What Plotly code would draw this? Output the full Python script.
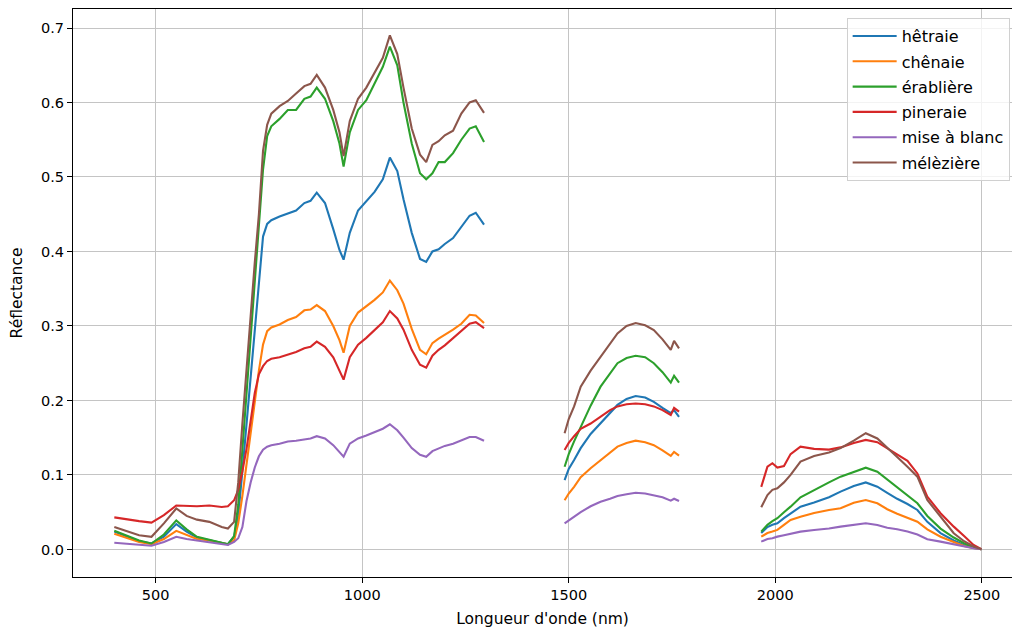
import plotly.graph_objects as go

# Wavelength grids (nm) for the three measured segments
w_vnir = [400, 430, 460, 490, 520, 550, 575, 600, 630, 660, 675, 690, 700, 710, 720, 730, 740, 750, 760, 770,
          780, 800, 820, 840, 860, 875, 890, 910, 930, 945, 955, 970, 990, 1010, 1030, 1050, 1067, 1085, 1100, 1120,
          1140, 1155, 1170, 1185, 1200, 1220, 1240, 1260, 1275, 1295]
w_swir1 = [1490, 1500, 1513, 1529, 1553, 1577, 1600, 1618, 1640, 1662, 1685, 1706, 1727, 1747, 1755, 1767]
w_swir2 = [1966, 1981, 1993, 2005, 2021, 2037, 2061, 2094, 2130, 2158, 2190, 2219, 2247, 2271, 2295, 2320,
           2344, 2368, 2400, 2432, 2457, 2480, 2499]

# hêtraie
hetraie_vnir = [0.024, 0.017, 0.011, 0.008, 0.017, 0.034, 0.024, 0.016, 0.012, 0.008, 0.007, 0.017, 0.045, 0.105,
                0.17, 0.233, 0.297, 0.36, 0.42, 0.437, 0.442, 0.447, 0.451, 0.455, 0.465, 0.468, 0.479, 0.465,
                0.43, 0.402, 0.389, 0.425, 0.455, 0.468, 0.48, 0.497, 0.526, 0.508, 0.47, 0.425, 0.39, 0.386,
                0.40, 0.403, 0.41, 0.418, 0.433, 0.448, 0.452, 0.436]
hetraie_swir1 = [0.093, 0.108, 0.12, 0.136, 0.155, 0.169, 0.183, 0.194, 0.202, 0.206, 0.204, 0.198, 0.19, 0.183,
                 0.187, 0.178]
hetraie_swir2 = [0.022, 0.03, 0.033, 0.035, 0.042, 0.0486, 0.0574, 0.063, 0.07, 0.0776, 0.0852, 0.090, 0.0843,
                 0.076, 0.068, 0.061, 0.053, 0.037, 0.022, 0.012, 0.006, 0.002, 0.0003]

# chênaie
chenaie_vnir = [0.021, 0.015, 0.010, 0.007, 0.014, 0.025, 0.019, 0.014, 0.012, 0.008, 0.007, 0.012, 0.035, 0.072,
                0.115, 0.155, 0.195, 0.24, 0.275, 0.293, 0.298, 0.302, 0.308, 0.312, 0.321, 0.322, 0.328, 0.32,
                0.30, 0.281, 0.264, 0.30, 0.318, 0.326, 0.335, 0.345, 0.361, 0.348, 0.33, 0.296, 0.268, 0.262,
                0.277, 0.283, 0.288, 0.295, 0.303, 0.315, 0.314, 0.304]
chenaie_swir1 = [0.066, 0.075, 0.084, 0.097, 0.109, 0.12, 0.13, 0.138, 0.143, 0.146, 0.144, 0.140, 0.133, 0.1255,
                 0.131, 0.126]
chenaie_swir2 = [0.0172, 0.022, 0.024, 0.0262, 0.033, 0.0396, 0.044, 0.049, 0.053, 0.0553, 0.0628, 0.0664, 0.062,
                 0.054, 0.048, 0.042, 0.0373, 0.027, 0.017, 0.01, 0.0047, 0.002, 0.0003]

# érablière
erabliere_vnir = [0.025, 0.018, 0.012, 0.008, 0.020, 0.039, 0.027, 0.017, 0.013, 0.008, 0.007, 0.018, 0.06, 0.134,
                  0.21, 0.287, 0.36, 0.43, 0.51, 0.555, 0.568, 0.578, 0.59, 0.59, 0.605, 0.608, 0.62, 0.605,
                  0.575, 0.545, 0.514, 0.56, 0.59, 0.603, 0.625, 0.648, 0.675, 0.65, 0.60, 0.545, 0.505, 0.497,
                  0.505, 0.52, 0.52, 0.532, 0.55, 0.565, 0.568, 0.547]
erabliere_swir1 = [0.111, 0.128, 0.145, 0.165, 0.193, 0.2185, 0.237, 0.25, 0.257, 0.26, 0.258, 0.25, 0.238, 0.224,
                   0.233, 0.224]
erabliere_swir2 = [0.0239, 0.033, 0.038, 0.0419, 0.05, 0.0574, 0.07, 0.08, 0.09, 0.0977, 0.1044, 0.1098, 0.1044,
                   0.094, 0.083, 0.072, 0.062, 0.045, 0.028, 0.016, 0.0083, 0.003, 0.0003]

# pineraie
pineraie_vnir = [0.043, 0.040, 0.038, 0.036, 0.046, 0.059, 0.058, 0.058, 0.059, 0.057, 0.058, 0.066, 0.08, 0.105,
                 0.135, 0.175, 0.21, 0.235, 0.246, 0.253, 0.256, 0.258, 0.261, 0.265, 0.27, 0.272, 0.279, 0.272,
                 0.258, 0.24, 0.228, 0.258, 0.275, 0.284, 0.295, 0.305, 0.32, 0.31, 0.295, 0.268, 0.248, 0.244,
                 0.26, 0.268, 0.274, 0.284, 0.293, 0.303, 0.305, 0.297]
pineraie_swir1 = [0.1335, 0.143, 0.152, 0.162, 0.169, 0.178, 0.187, 0.192, 0.195, 0.196, 0.195, 0.192, 0.187,
                  0.1805, 0.19, 0.185]
pineraie_swir2 = [0.084, 0.111, 0.1157, 0.110, 0.112, 0.128, 0.138, 0.135, 0.134, 0.137, 0.143, 0.147, 0.144,
                  0.136, 0.127, 0.119, 0.102, 0.071, 0.0486, 0.0306, 0.018, 0.006, 0.0003]

# mise à blanc
blanc_vnir = [0.009, 0.008, 0.006, 0.005, 0.010, 0.017, 0.014, 0.012, 0.010, 0.007, 0.006, 0.010, 0.015, 0.03,
              0.065, 0.09, 0.11, 0.125, 0.134, 0.138, 0.140, 0.142, 0.145, 0.146, 0.148, 0.149, 0.152, 0.149,
              0.14, 0.131, 0.1245, 0.142, 0.149, 0.153, 0.158, 0.162, 0.168, 0.16, 0.15, 0.136, 0.127, 0.1245,
              0.132, 0.136, 0.139, 0.142, 0.147, 0.151, 0.151, 0.146]
blanc_swir1 = [0.035, 0.039, 0.044, 0.05, 0.058, 0.064, 0.068, 0.0718, 0.074, 0.076, 0.075, 0.073, 0.07, 0.0655,
               0.068, 0.065]
blanc_swir2 = [0.0105, 0.014, 0.015, 0.0172, 0.019, 0.021, 0.0239, 0.026, 0.028, 0.0306, 0.033, 0.0352, 0.0329,
               0.029, 0.027, 0.024, 0.02, 0.0137, 0.0105, 0.007, 0.0038, 0.0015, 0.0003]

# mélèzière
meleziere_vnir = [0.030, 0.025, 0.019, 0.017, 0.035, 0.055, 0.045, 0.040, 0.037, 0.030, 0.028, 0.037, 0.09, 0.169,
                  0.243, 0.317, 0.385, 0.45, 0.535, 0.57, 0.585, 0.595, 0.602, 0.612, 0.622, 0.625, 0.637, 0.62,
                  0.59, 0.56, 0.528, 0.575, 0.605, 0.62, 0.64, 0.66, 0.690, 0.665, 0.62, 0.565, 0.53, 0.52,
                  0.543, 0.548, 0.556, 0.562, 0.585, 0.600, 0.603, 0.586]
meleziere_swir1 = [0.156, 0.175, 0.192, 0.2185, 0.24, 0.259, 0.277, 0.29, 0.30, 0.304, 0.301, 0.2946, 0.282, 0.268,
                   0.28, 0.27]
meleziere_swir2 = [0.0566, 0.073, 0.08, 0.082, 0.09, 0.1, 0.118, 0.1255, 0.13, 0.136, 0.146, 0.156, 0.149, 0.136,
                   0.124, 0.111, 0.0977, 0.0664, 0.044, 0.0217, 0.011, 0.004, 0.0003]

labels = ["hêtraie", "chênaie", "érablière", "pineraie", "mise à blanc", "mélèzière"]
colors = ["#1f77b4", "#ff7f0e", "#2ca02c", "#d62728", "#9467bd", "#8c564b"]
series = [
    (hetraie_vnir, hetraie_swir1, hetraie_swir2),
    (chenaie_vnir, chenaie_swir1, chenaie_swir2),
    (erabliere_vnir, erabliere_swir1, erabliere_swir2),
    (pineraie_vnir, pineraie_swir1, pineraie_swir2),
    (blanc_vnir, blanc_swir1, blanc_swir2),
    (meleziere_vnir, meleziere_swir1, meleziere_swir2),
]

x_all = list(w_vnir) + [None] + list(w_swir1) + [None] + list(w_swir2)

fig = go.Figure()
for i, (name, col, (a, b, c)) in enumerate(zip(labels, colors, series)):
    y_all = list(a) + [None] + list(b) + [None] + list(c)
    fig.add_trace(go.Scatter(x=x_all, y=y_all, mode="lines", name=name, legendgroup=f"g{i}",
                             line=dict(color=col, width=2.1), connectgaps=False))

axis_common = dict(showline=True, linecolor="black", linewidth=1, mirror=True,
                   ticks="outside", ticklen=5, tickcolor="black", tickwidth=1,
                   showgrid=True, gridcolor="#c4c4c4", gridwidth=1, zeroline=False,
                   tickfont=dict(family="DejaVu Sans", size=14.5, color="black"))

fig.update_xaxes(range=[300, 2573], tickvals=[500, 1000, 1500, 2000, 2500],
                 title=dict(text="Longueur d'onde (nm)", font=dict(family="DejaVu Sans", size=15.5, color="black"),
                            standoff=10),
                 **axis_common)
fig.update_yaxes(range=[-0.037, 0.7255], tickvals=[0, 0.1, 0.2, 0.3, 0.4, 0.5, 0.6, 0.7], tickformat=".1f",
                 title=dict(text="Réflectance", font=dict(family="DejaVu Sans", size=15.5, color="black"),
                            standoff=14),
                 **axis_common)

fig.update_layout(
    width=1012, height=630,
    margin=dict(l=73, r=0, t=9, b=53),
    plot_bgcolor="white", paper_bgcolor="white",
    font=dict(family="DejaVu Sans", size=15, color="black"),
    legend=dict(x=0.9975, y=0.984, xanchor="right", yanchor="top",
                bgcolor="rgba(255,255,255,0.8)", bordercolor="#d0d0d0", borderwidth=1,
                font=dict(family="DejaVu Sans", size=16, color="black"),
                tracegroupgap=1.5, itemwidth=44),
    showlegend=True,
)

fig.write_html("out.html")
